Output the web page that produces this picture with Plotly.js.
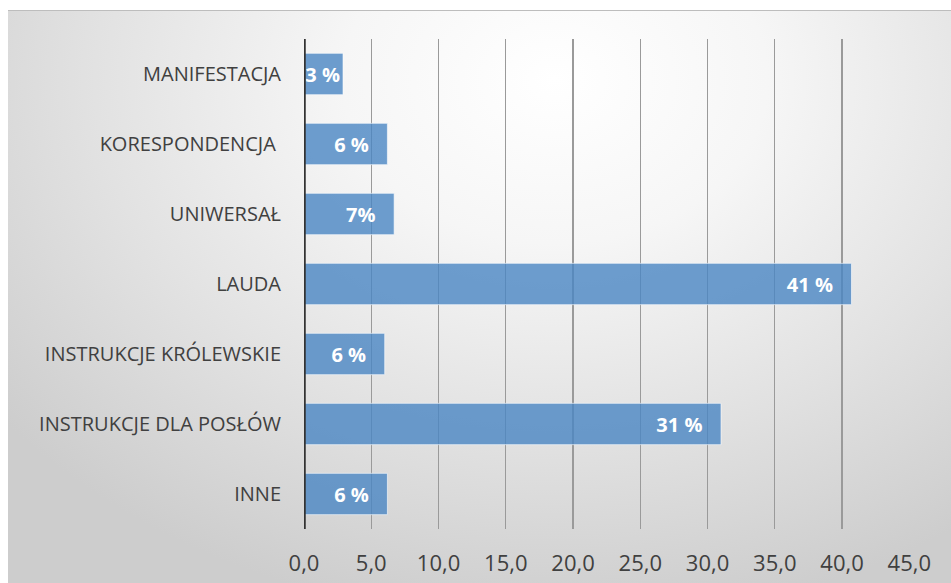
<!DOCTYPE html>
<html>
<head>
<meta charset="utf-8">
<script src="https://cdn.plot.ly/plotly-3.0.1.min.js"></script>
<style>
  html, body { margin: 0; padding: 0; background: #ffffff; width: 951px; height: 583px; overflow: hidden; }
  #chart {
    position: absolute; left: 8px; top: 10px; width: 943px; height: 573px;
    border-top: 1px solid #bdbdbd;
    background: radial-gradient(ellipse 75% 95% at 58% 12%, #ffffff 0%, #f6f6f6 30%, #e2e2e2 65%, #cdcdcd 100%);
  }
</style>
</head>
<body>
<div id="chart"></div>
<script>
// Data (top to bottom as shown)
const categories = ["MANIFESTACJA", "KORESPONDENCJA ", "UNIWERSAŁ", "LAUDA", "INSTRUKCJE KRÓLEWSKIE", "INSTRUKCJE DLA POSŁÓW", "INNE"];
const values = [2.9, 6.2, 6.7, 40.7, 6.0, 31.0, 6.2];
const valueLabels = ["3 %", "6 %", "7%", "41 %", "6 %", "31 %", "6 %"];
const xTickValues = [0, 5, 10, 15, 20, 25, 30, 35, 40, 45];

const pad = "\u00a0\u00a0\u00a0";
const templates = valueLabels.map((t, i) => i === 0 ? "%{text}" : "%{text}" + pad);

const trace = {
  type: "bar",
  orientation: "h",
  y: categories,
  x: values,
  text: valueLabels,
  texttemplate: templates,
  textposition: "inside",
  insidetextanchor: "end",
  textangle: 0,
  constraintext: "none",
  cliponaxis: false,
  textfont: { family: "Open Sans, sans-serif", size: 20, color: "#ffffff", weight: 700 },
  marker: { color: "rgba(74,134,195,0.8)", line: { color: "rgba(255,255,255,0.6)", width: 1 } },
  hoverinfo: "none"
};

const layout = {
  width: 943, height: 573,
  margin: { l: 296, r: 41, t: 28, b: 55 },
  paper_bgcolor: "rgba(0,0,0,0)",
  plot_bgcolor: "rgba(0,0,0,0)",
  bargap: 0.41,
  showlegend: false,
  separators: ",.",
  font: { family: "Open Sans, sans-serif", color: "#404040" },
  xaxis: {
    range: [0, 45.05],
    tickvals: xTickValues,
    tickformat: ".1f",
    showgrid: true,
    gridcolor: "#9a9a9a",
    gridwidth: 1.3,
    zeroline: false,
    showline: false,
    ticks: "",
    tickfont: { size: 22, color: "#404040" },
    ticklabelstandoff: 19,
    fixedrange: true
  },
  yaxis: {
    autorange: "reversed",
    showgrid: false,
    zeroline: false,
    showline: false,
    ticks: "",
    tickfont: { size: 20, color: "#404040" },
    ticklabelstandoff: 22,
    fixedrange: true
  },
  shapes: [{
    type: "line", xref: "x", yref: "paper", x0: 0, x1: 0, y0: 0, y1: 1,
    line: { color: "#333333", width: 3.5 }
  }]
};

Plotly.newPlot("chart", [trace], layout, { displayModeBar: false, staticPlot: true });
</script>
</body>
</html>
